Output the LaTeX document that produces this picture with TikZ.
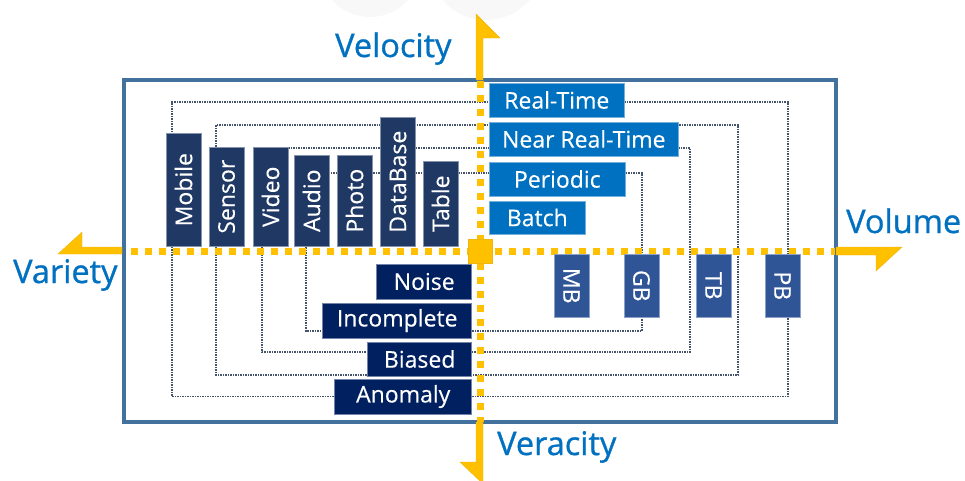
\documentclass[tikz,border=0pt]{standalone}
\usepackage{fontspec}
\setmainfont{Open Sans}
\newfontfamily\boxfont{Open Sans}[FakeBold=0.3]
\newfontfamily\axisfont{Open Sans}[FakeBold=0.9]
\usetikzlibrary{backgrounds}
\definecolor{cFrame}{HTML}{41719C}
\definecolor{cAxis}{HTML}{FFC000}
\definecolor{cLabel}{HTML}{0070C0}
\definecolor{cSource}{HTML}{1F3864}
\definecolor{cSpeed}{HTML}{0070C0}
\definecolor{cSize}{HTML}{2F5597}
\definecolor{cQuality}{HTML}{002060}
\definecolor{cLink}{HTML}{44546A}
\definecolor{cHaze}{HTML}{F8F8F8}
\tikzset{
  box/.style={
    rectangle, draw=#1!55!white, line width=0.6pt, fill=#1,
    text=white, inner sep=0pt, font=\boxfont\fontsize{23}{27}\selectfont
  },
  srcbox/.style={box=cSource, rotate=90, anchor=west, minimum height=35pt},
  sizebox/.style={box=cSize, rotate=-90, anchor=west,
                  minimum width=63pt, minimum height=35pt},
  speedbox/.style={box=cSpeed, anchor=west, minimum height=34pt},
  qualbox/.style={box=cQuality, anchor=east, minimum height=35pt},
  axisdots/.style={cAxis, line width=7pt, dash pattern=on 7pt off 7pt},
  axishead/.style={fill=cAxis, draw=cAxis!85!gray, line width=0.4pt},
  linkline/.style={cLink, line width=1.3pt, dash pattern=on 1.3pt off 1.2pt},
  axislabel/.style={text=cLabel, inner sep=0pt, anchor=base west,
                    font=\axisfont\fontsize{32.5}{40}\selectfont},
}

\begin{document}
\begin{tikzpicture}[x=1pt, y=-1pt]
  \useasboundingbox (0,0) rectangle (965,480);

  % faint blobs along the top edge
  \fill[cHaze] (370,-34) circle (51pt);
  \fill[cHaze] (486,-38) circle (58pt);

  % frame
  \draw[cFrame, line width=3.5pt] (124,80) rectangle (836,422);

  % axes
  \draw[axisdots] (131,251) -- (835,251);
  \draw[axisdots] (480,81) -- (480,422);
  \fill[cAxis, draw=cAxis!85!gray, line width=0.4pt] (468,239) rectangle (492,263);

  \filldraw[axishead] (476,80) -- (476,14) -- (500,38) -- (483,38) -- (483,80) -- cycle;
  \filldraw[axishead] (836,247) -- (902,247) -- (876,271) -- (876,255) -- (836,255) -- cycle;
  \filldraw[axishead] (122,247) -- (82,247) -- (82,232) -- (58,254) -- (122,254) -- cycle;
  \filldraw[axishead] (476,422) -- (476,462) -- (460,462) -- (483,484) -- (483,422) -- cycle;

  % axis names
  \node[axislabel] (velocity) at (335,57)  {Velocity};
  \node[axislabel] (volume)   at (846,233) {Volume};
  \node[axislabel] (variety)  at (13,283)  {Variety};
  \node[axislabel] (veracity) at (497,455) {Veracity};

  % sources
  \node[srcbox, minimum width=113pt] (mobile)   at (183.5,246.5) {Mobile};
  \node[srcbox, minimum width=99pt]  (sensor)   at (226.5,246.5) {Sensor};
  \node[srcbox, minimum width=99pt]  (video)    at (270.5,246.5) {Video};
  \node[srcbox, minimum width=91pt]  (audio)    at (311.5,246.5) {Audio};
  \node[srcbox, minimum width=91pt]  (photo)    at (354.5,246.5) {Photo};
  \node[srcbox, minimum width=129pt] (database) at (398,246.5)   {DataBase};
  \node[srcbox, minimum width=85pt]  (table)    at (440.5,246.5) {Table};

  % speeds
  \node[speedbox, minimum width=135pt] (realtime) at (489,100)   {Real-Time};
  \node[speedbox, minimum width=189pt] (nearrt)   at (489,139)   {Near Real-Time};
  \node[speedbox, minimum width=136pt] (periodic) at (489,179)   {Periodic};
  \node[speedbox, minimum width=96pt, minimum height=33pt] (batch) at (489,217.5) {Batch};

  % sizes
  \node[sizebox] (mb) at (571.5,254) {MB};
  \node[sizebox] (gb) at (641.5,254) {GB};
  \node[sizebox] (tb) at (713.5,254) {TB};
  \node[sizebox] (pb) at (782.5,254) {PB};

  % quality issues
  \node[qualbox, minimum width=95pt]  (noise)      at (472,281.5) {Noise};
  \node[qualbox, minimum width=149pt] (incomplete) at (472,320.5) {Incomplete};
  \node[qualbox, minimum width=104pt, minimum height=34pt] (biased) at (472,359) {Biased};
  \node[qualbox, minimum width=137pt] (anomaly)    at (472,396.5) {Anomaly};

  % dotted rings behind the boxes
  \begin{scope}[on background layer]
    \draw[linkline] ([xshift=-11.5pt]mobile.center) |- ([yshift=-2pt]realtime.center)
      -| ([xshift=5.5pt]pb.center) |- (anomaly.center) -| ([xshift=-11.5pt]mobile.center);
    \draw[linkline] ([xshift=-10.5pt]sensor.center) |- ([yshift=14pt]nearrt.center)
      -| ([xshift=24.5pt]tb.center) |- ([yshift=-16pt]biased.center) -| ([xshift=-10.5pt]sensor.center);
    \draw[linkline] ([xshift=-8.5pt]video.center) |- ([yshift=-9pt]nearrt.center)
      -| ([xshift=-23.5pt]tb.center) |- ([yshift=7pt]biased.center) -| ([xshift=-8.5pt]video.center);
    \draw[linkline] ([xshift=-5.5pt]audio.center) |- ([yshift=6pt]periodic.center)
      -| ([xshift=0.5pt]gb.center) |- ([yshift=-10.5pt]incomplete.center) -| ([xshift=-5.5pt]audio.center);
  \end{scope}

\end{tikzpicture}
\end{document}
